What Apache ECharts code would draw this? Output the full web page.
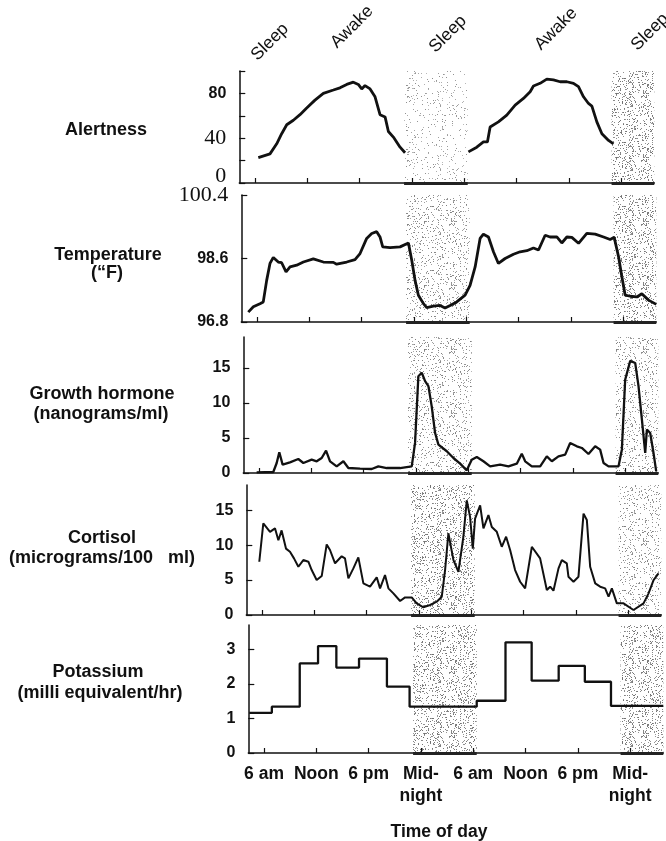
<!DOCTYPE html>
<html><head><meta charset="utf-8">
<script src="https://cdn.jsdelivr.net/npm/echarts@6/dist/echarts.min.js"></script>
<style>html,body{margin:0;padding:0;background:#fff}#c{width:666px;height:841px}</style>
</head><body><div id="c"></div>
<script>
// ---- data (x = hours from midnight of day 1) ----
const hourTicks = [6, 12, 18, 24, 30, 36, 42, 48];
const hourLabels = ['6 am', 'Noon', '6 pm', 'Mid-\nnight', '6 am', 'Noon', '6 pm', 'Mid-\nnight'];
const stateLabels = ['Sleep', 'Awake', 'Sleep', 'Awake', 'Sleep'];
const sleepBands = [[23.1, 30.4], [46.9, 51.8]];

const alertnessDay1 = [[6.38,22.7],[7.72,26],[8.49,35],[9.06,44],[9.64,52],[10.4,56],[11.16,61],[11.93,67],[12.88,74],[13.84,80],[14.99,83],[15.75,85],[16.52,88],[17.28,90],[17.85,88],[18.24,84],[18.62,87],[19.2,84],[19.77,77],[20.34,61],[20.92,59],[21.3,46],[21.87,41],[22.64,32],[23.21,27]];
const alertnessDay2 = [[30.48,27.8],[31.44,32],[32.2,36.7],[32.66,36.7],[32.97,50],[33.92,54.6],[34.88,60.6],[35.84,69.6],[36.79,75.5],[37.56,81.5],[37.94,86.6],[38.7,89],[39.47,92.8],[40.23,92],[41.0,90.4],[41.77,90.4],[42.53,89],[43.1,86],[43.68,77],[44.25,71],[44.64,68.7],[45.21,54.6],[45.79,44],[46.55,38],[47.12,35]];

const temperature = [[5.0,97.08],[5.58,97.23],[6.34,97.32],[6.72,97.37],[7.11,97.98],[7.49,98.46],[7.87,98.63],[8.44,98.5],[8.83,98.48],[9.33,98.22],[9.79,98.36],[10.55,98.41],[11.32,98.5],[12.46,98.59],[13.61,98.5],[14.76,98.49],[15.14,98.44],[16.29,98.5],[17.24,98.57],[17.82,98.74],[18.58,99.17],[19.16,99.31],[19.73,99.36],[20.11,99.21],[20.42,98.93],[21.26,98.91],[22.41,98.93],[23.37,99.04],[23.75,98.55],[24.13,97.98],[24.51,97.56],[25.09,97.32],[25.47,97.21],[26.23,97.25],[27.0,97.27],[27.57,97.2],[28.15,97.27],[28.91,97.37],[29.87,97.56],[30.44,97.84],[31.02,98.36],[31.59,99.17],[31.97,99.29],[32.55,99.21],[33.12,98.79],[33.69,98.46],[34.46,98.6],[35.42,98.72],[36.18,98.79],[36.95,98.82],[37.71,98.9],[38.29,98.84],[39.05,99.26],[39.62,99.21],[40.39,99.21],[40.96,99.04],[41.54,99.21],[42.11,99.2],[42.88,99.03],[43.83,99.31],[44.79,99.29],[45.75,99.21],[46.51,99.14],[46.97,99.2],[47.47,98.65],[47.85,98.08],[48.23,97.56],[48.81,97.53],[49.57,97.51],[50.14,97.6],[50.91,97.42],[51.8,97.3]];

const growthHormone = [[5.73,0.1],[7.64,0.14],[8.03,1.43],[8.33,2.95],[8.71,1.19],[9.55,1.52],[10.51,2.0],[11.09,1.43],[12.04,1.9],[12.62,1.67],[13.19,2.14],[13.69,3.19],[14.15,1.67],[14.91,0.95],[15.68,1.67],[16.25,0.71],[17.59,0.62],[18.93,0.57],[19.69,0.95],[20.65,0.71],[22.18,0.71],[23.52,0.95],[23.9,4.29],[24.28,13.8],[24.67,14.3],[25.05,13.1],[25.43,12.4],[25.81,9.5],[26.2,5.7],[26.58,4.05],[27.54,3.1],[28.3,2.14],[29.07,1.33],[29.83,0.38],[30.4,1.9],[30.98,2.29],[31.74,1.67],[32.51,0.95],[33.66,1.19],[34.61,0.95],[35.57,1.33],[36.14,2.76],[36.53,1.67],[37.29,0.95],[38.25,0.95],[39.01,2.38],[39.59,1.67],[40.35,2.38],[41.12,2.62],[41.69,4.29],[42.46,3.81],[43.03,3.57],[43.79,2.71],[44.56,3.81],[45.13,3.33],[45.52,1.43],[46.09,0.95],[47.24,0.95],[47.62,3.33],[48.0,13.3],[48.58,16.0],[49.15,15.7],[49.53,12.4],[49.92,7.6],[50.3,2.86],[50.49,6.2],[50.87,5.7],[51.25,2.86],[51.56,0.24]];

const cortisol = [[5.69,7.62],[6.15,13.1],[6.92,11.9],[7.49,12.4],[7.88,10.7],[8.25,12.1],[8.75,9.5],[9.21,9.05],[9.67,8.1],[10.17,6.9],[10.74,7.86],[11.32,7.62],[11.7,6.43],[12.27,5.0],[12.85,5.57],[13.42,10.1],[13.8,9.3],[14.38,7.4],[15.14,8.4],[15.52,8.1],[15.91,5.24],[16.48,6.67],[17.05,8.24],[17.63,4.52],[18.39,4.05],[19.16,5.38],[19.54,3.81],[20.11,5.71],[20.5,3.81],[21.07,3.1],[21.84,2.0],[22.41,2.52],[23.17,2.52],[23.75,1.67],[24.51,1.1],[25.28,1.43],[26.04,1.9],[26.62,2.62],[27.0,6.43],[27.38,11.7],[27.96,7.86],[28.53,6.19],[29.1,11.2],[29.49,16.4],[29.87,14.0],[30.18,9.5],[30.44,13.8],[31.02,15.7],[31.4,12.4],[31.97,14.3],[32.36,12.6],[32.93,11.9],[33.5,9.76],[34.0,11.2],[34.46,9.3],[35.03,6.43],[35.61,4.76],[36.18,3.81],[36.95,9.76],[37.9,8.1],[38.67,3.57],[39.05,4.05],[39.43,3.48],[40.01,6.67],[40.39,7.86],[40.96,7.38],[41.15,5.48],[41.73,4.76],[42.3,5.48],[42.88,14.5],[43.26,13.6],[43.64,6.9],[44.22,4.52],[44.79,4.05],[45.36,3.81],[45.75,2.62],[46.13,3.81],[46.7,1.67],[47.47,1.67],[48.61,0.71],[49.76,1.67],[50.34,3.1],[50.91,5.0],[51.48,5.95]];

const potassium = [[4.3,1.16],[6.9,1.34],[10.1,2.59],[12.2,3.09],[14.3,2.47],[16.9,2.73],[20.1,1.92],[22.7,1.34],[30.4,1.51],[33.7,3.2],[36.7,2.09],[39.8,2.52],[42.8,2.06],[45.8,1.36],[51.8,1.36]];

// ---- styling helpers ----
const SANS = 'Liberation Sans, Arial, sans-serif';
const SERIF = 'Liberation Serif, Times New Roman, serif';
const INK = '#111';

function stipple(density, alpha) {
  const size = 64;
  const c = document.createElement('canvas');
  c.width = c.height = size;
  const ctx = c.getContext('2d');
  const img = ctx.createImageData(size, size);
  for (let i = 0; i < size * size; i++) {
    let h = (i + 1) * 374761393;
    h = Math.imul(h ^ (h >>> 13), 1274126177);
    h = (h ^ (h >>> 16)) >>> 0;
    const r = (h % 1000) / 1000;
    img.data[i * 4] = img.data[i * 4 + 1] = img.data[i * 4 + 2] = 60;
    img.data[i * 4 + 3] = r < density ? alpha + (h % 60) : 0;
  }
  ctx.putImageData(img, 0, 0);
  return { image: c, repeat: 'repeat' };
}
const lightDots = stipple(0.06, 90);
const midDots = stipple(0.11, 110);
const darkDots = stipple(0.16, 130);

const XMIN = 4.2, XMAX = 51.8;
const grids = [
  { left: 239.3, top: 71, width: 415, height: 112 },
  { left: 241.3, top: 195, width: 415, height: 127 },
  { left: 243.3, top: 337, width: 415, height: 136 },
  { left: 246.3, top: 485, width: 415, height: 130 },
  { left: 248.3, top: 625, width: 415, height: 128 }
];
const bandPatterns = [
  [lightDots, darkDots], [midDots, darkDots], [midDots, midDots], [darkDots, midDots], [darkDots, darkDots]
];

const xAxes = grids.map((g, i) => ({
  type: 'value', gridIndex: i, min: XMIN, max: XMAX,
  axisLine: { show: true, onZero: false, lineStyle: { color: INK, width: 1.5 } },
  axisTick: { show: true, inside: true, length: 5, customValues: hourTicks, lineStyle: { color: INK, width: 1.2 } },
  splitLine: { show: false },
  axisLabel: i === 4 ? {
    show: true, customValues: hourTicks, margin: 10,
    formatter: v => hourLabels[hourTicks.indexOf(v)] || '',
    fontFamily: SANS, fontWeight: 'bold', fontSize: 17.5, color: INK, lineHeight: 22
  } : { show: false }
}));

function yAxis(i, min, max, ticks, labels, fmt, rich) {
  return {
    type: 'value', gridIndex: i, min: min, max: max,
    axisLine: { show: true, lineStyle: { color: INK, width: 1.5 } },
    axisTick: { show: true, inside: true, length: 6, customValues: ticks, lineStyle: { color: INK, width: 1.2 } },
    splitLine: { show: false },
    axisLabel: { show: true, customValues: labels, margin: 13, formatter: fmt, rich: rich,
      fontFamily: SANS, fontWeight: 'bold', fontSize: 16, color: INK }
  };
}
const richNums = {
  b: { fontFamily: SANS, fontWeight: 'bold', fontSize: 16, color: INK },
  s: { fontFamily: SERIF, fontWeight: 'normal', fontSize: 22, color: INK },
  z: { fontFamily: SERIF, fontWeight: 'normal', fontSize: 22, color: INK, padding: [0, 0, 14, 0] }
};
const yAxes = [
  yAxis(0, 0, 100, [0, 20, 40, 60, 80, 100], [0, 40, 80], v => v === 80 ? '{b|80}' : (v === 0 ? '{z|0}' : '{s|' + v + '}'), richNums),
  yAxis(1, 96.8, 100.4, [96.8, 98.6, 100.4], [96.8, 98.6, 100.4], v => v > 100 ? '{s|100.4}' : '{b|' + v.toFixed(1) + '}', richNums),
  yAxis(2, 0, 19.4, [0, 5, 10, 15], [0, 5, 10, 15], v => String(v)),
  yAxis(3, 0, 18.6, [0, 5, 10, 15], [0, 5, 10, 15], v => String(v)),
  yAxis(4, 0, 3.7, [0, 1, 2, 3], [0, 1, 2, 3], v => String(v))
];
const yMins = [0, 96.8, 0, 0, 0];

function sleepDecor(i) {
  return {
    markArea: {
      silent: true,
      data: sleepBands.map((b, k) => [{ xAxis: b[0], itemStyle: { color: bandPatterns[i][k] } }, { xAxis: b[1] }])
    },
    markLine: {
      silent: true, symbol: 'none', label: { show: false },
      lineStyle: { color: '#222', width: 3, type: 'solid' },
      data: sleepBands.map(b => [{ coord: [b[0], yMins[i]] }, { coord: [b[1], yMins[i]] }])
    }
  };
}
function line(i, data, width, extra) {
  return Object.assign({
    type: 'line', xAxisIndex: i, yAxisIndex: i, data: data, showSymbol: false, symbol: 'none',
    lineStyle: { color: INK, width: width }, z: 3, animation: false
  }, extra || {});
}

const series = [
  line(0, alertnessDay1, 2.8, sleepDecor(0)),
  line(0, alertnessDay2, 2.8),
  line(1, temperature, 2.8, sleepDecor(1)),
  line(2, growthHormone, 2.3, sleepDecor(2)),
  line(3, cortisol, 2.0, sleepDecor(3)),
  line(4, potassium, 2.3, Object.assign({ step: 'end' }, sleepDecor(4)))
];

const panelText = [
  ['Alertness', 106, 130],
  ['Temperature', 108, 255], ['(“F)', 107, 273],
  ['Growth hormone', 102, 394], ['(nanograms/ml)', 101, 414],
  ['Cortisol', 102, 538], ['(micrograms/100   ml)', 102, 558],
  ['Potassium', 98, 672], ['(milli equivalent/hr)', 100, 693]
];
const stateCenters = [[270, 42], [352, 27], [448, 34], [556, 29], [650, 32]];

const graphic = [];
panelText.forEach(t => graphic.push({
  type: 'text', x: t[1], y: t[2],
  style: { text: t[0], fontFamily: SANS, fontWeight: 'bold', fontSize: 18, fill: INK, align: 'center', verticalAlign: 'middle' }
}));
stateLabels.forEach((s, k) => graphic.push({
  type: 'text', x: stateCenters[k][0], y: stateCenters[k][1], rotation: Math.PI / 4,
  style: { text: s, fontFamily: SANS, fontSize: 17.5, fill: INK, align: 'center', verticalAlign: 'middle' }
}));
graphic.push({
  type: 'text', x: 439, y: 832,
  style: { text: 'Time of day', fontFamily: SANS, fontWeight: 'bold', fontSize: 17.5, fill: INK, align: 'center', verticalAlign: 'middle' }
});

const chart = echarts.init(document.getElementById('c'), null, { renderer: 'canvas' });
chart.setOption({
  backgroundColor: '#fff',
  animation: false,
  grid: grids,
  xAxis: xAxes,
  yAxis: yAxes,
  series: series,
  graphic: graphic
});
</script></body></html>
